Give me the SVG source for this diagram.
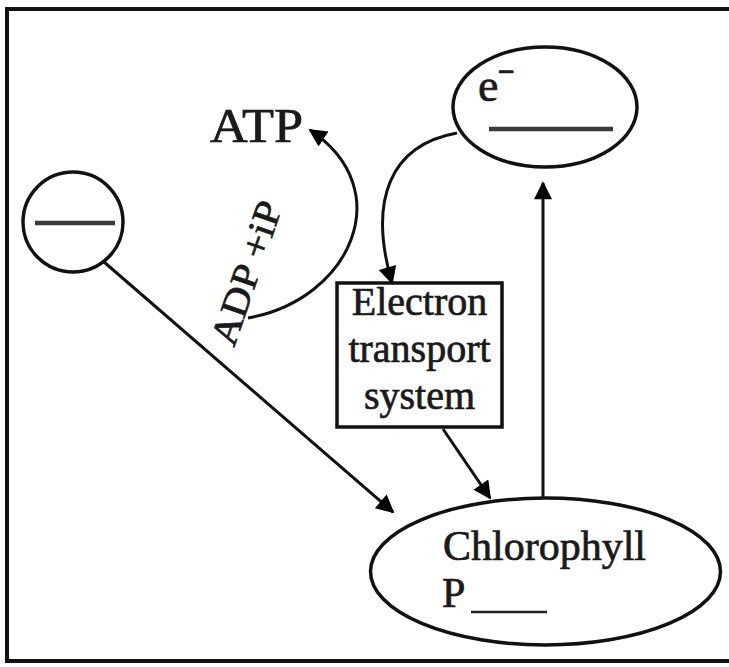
<svg xmlns="http://www.w3.org/2000/svg" width="729" height="667" viewBox="0 0 729 667">
<style>
.t{font-family:"Liberation Serif","Times New Roman",serif;fill:#1a1a1a;stroke:#1a1a1a;stroke-width:0.7}
.n{fill:none;stroke:#111;stroke-width:3.5}
.c{fill:none;stroke:#111;stroke-width:3}
.blank{stroke:#3a3a3a;stroke-width:4.5}
</style>
<defs>
<marker id="ah" viewBox="0 0 10 10" refX="9" refY="5" markerWidth="7" markerHeight="6" orient="auto" markerUnits="strokeWidth">
<path d="M0,0 L10,5 L0,10 Z" fill="#000"/>
</marker>
</defs>
<rect x="0" y="0" width="729" height="667" fill="#fff"/>
<rect x="7" y="9" width="730" height="652" fill="none" stroke="#111" stroke-width="4"/>

<g id="circle-left">
<circle class="n" cx="73" cy="222" r="50"/>
<line class="blank" x1="35" y1="223" x2="115" y2="223"/>
</g>

<g id="electron-ellipse">
<ellipse class="n" cx="545" cy="107" rx="92" ry="60"/>
<text class="t" x="478" y="101" font-size="46">e<tspan font-size="28" dy="-20" stroke-width="1.5">−</tspan></text>
<line class="blank" x1="489" y1="129" x2="613" y2="129"/>
</g>

<g id="atp">
<text class="t" x="210" y="142" font-size="48" textLength="93" lengthAdjust="spacingAndGlyphs">ATP</text>
</g>

<g id="adp">
<text class="t" font-size="38" transform="translate(234,348) rotate(-71)" textLength="150" lengthAdjust="spacingAndGlyphs">ADP +iP</text>
</g>

<g id="ets">
<rect x="337" y="283" width="165" height="144" fill="#fff" stroke="#111" stroke-width="3.5"/>
<text class="t" x="419.5" y="315" font-size="40" text-anchor="middle">Electron</text>
<text class="t" x="419.5" y="362" font-size="40" text-anchor="middle">transport</text>
<text class="t" x="419.5" y="409" font-size="40" text-anchor="middle">system</text>
</g>

<g id="chlorophyll">
<ellipse class="n" cx="545.5" cy="571.5" rx="175" ry="73.5"/>
<text class="t" x="443" y="560" font-size="42">Chlorophyll</text>
<text class="t" x="442" y="607" font-size="42">P</text>
<line stroke="#222" stroke-width="2.5" x1="471" y1="612" x2="547" y2="612"/>
</g>

<g id="connectors">
<path class="c" d="M248,318 C350,300 400,190 310,130" marker-end="url(#ah)"/>
<path class="c" d="M457,133 C390,145 368,200 392,283" marker-end="url(#ah)"/>
<line class="c" x1="443" y1="429" x2="490" y2="498" marker-end="url(#ah)"/>
<line class="c" x1="543" y1="497" x2="543" y2="183" marker-end="url(#ah)"/>
<line class="c" x1="104" y1="262" x2="393" y2="512" marker-end="url(#ah)"/>
</g>
</svg>
